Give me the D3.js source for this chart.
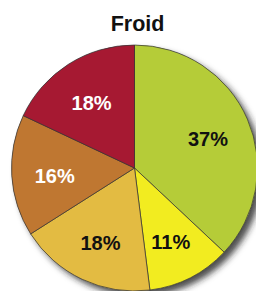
<!DOCTYPE html>
<html>
<head>
<meta charset="utf-8">
<script src="https://cdn.jsdelivr.net/npm/d3@7.9.0/dist/d3.min.js"></script>
<style>
  body { margin: 0; background: #fff; }
  svg { display: block; }
</style>
</head>
<body>
<svg id="chart" width="256" height="291"></svg>
<script>
const title = 'Froid';
const labels = ['37%', '11%', '18%', '16%', '18%'];
const values = [37, 11, 18, 16, 18];
const colors = ['#b5cc38', '#f2ec20', '#e3bb42', '#bf7731', '#a61932'];
const textColors = ['#111', '#111', '#111', '#fff', '#fff'];

const width = 256, height = 291;
const cx = 134.5, cy = 168, radius = 123;

const svg = d3.select('#chart');

// drop shadow
const defs = svg.append('defs');
defs.append('filter')
    .attr('id', 'shadow')
    .attr('x', '-20%').attr('y', '-20%')
    .attr('width', '140%').attr('height', '140%')
  .append('feDropShadow')
    .attr('dx', 5).attr('dy', 5)
    .attr('stdDeviation', 3)
    .attr('flood-color', '#222')
    .attr('flood-opacity', 0.8);

svg.append('text')
    .attr('x', 137.5)
    .attr('y', 30.5)
    .attr('text-anchor', 'middle')
    .attr('font-family', 'Liberation Sans, Arial, sans-serif')
    .attr('font-weight', 'bold')
    .attr('font-size', 21.5)
    .attr('fill', '#111')
    .text(title);

let data = values.map((v, i) => ({ value: v, label: labels[i], idx: i }));
let pie = d3.pie().sort(null).value((d) => d.value);
let arcData = pie(data);
let arcGen = d3.arc().innerRadius(0).outerRadius(radius);
let labelArc = d3.arc().innerRadius(80).outerRadius(80);

let g = svg.append('g').attr('transform', `translate(${cx},${cy})`);

g.append('circle')
    .attr('r', radius)
    .attr('fill', '#888')
    .attr('filter', 'url(#shadow)');

g.selectAll('path')
  .data(arcData)
  .join('path')
    .attr('d', arcGen)
    .attr('fill', (d) => colors[d.data.idx])
    .attr('stroke', '#333')
    .attr('stroke-width', 0.7);

g.selectAll('text')
  .data(arcData)
  .join('text')
    .attr('transform', (d) => `translate(${labelArc.centroid(d)})`)
    .attr('text-anchor', 'middle')
    .attr('dy', '0.5em')
    .attr('font-family', 'Liberation Sans, Arial, sans-serif')
    .attr('font-weight', 'bold')
    .attr('font-size', 20)
    .attr('fill', (d) => textColors[d.data.idx])
    .text((d) => d.data.label);
</script>
</body>
</html>
